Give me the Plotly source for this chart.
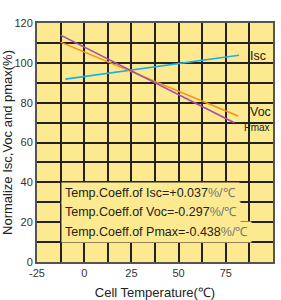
import plotly.graph_objects as go

isc_x = [-10, 82]
isc_y = [91.8, 103.8]
voc_x = [-12.5, 81.5]
voc_y = [110.4, 73.3]
pmax_x = [-12.5, 79.5]
pmax_y = [113.9, 69.9]

x_grid = [-25 + 12.5 * i for i in range(11)]
x_labels = ["-25", "", "0", "", "25", "", "50", "", "75", "", "100"]
y_grid = [10 * i for i in range(13)]
y_labels = [str(v) if v % 20 == 0 else "" for v in y_grid]

coeff_texts = [
    "Temp.Coeff.of Isc=+0.037<span style='color:#777'>%/℃</span>",
    "Temp.Coeff.of Voc=-0.297<span style='color:#777'>%/℃</span>",
    "Temp.Coeff.of Pmax=-0.438<span style='color:#777'>%/℃</span>",
]
coeff_y = [34.4, 24.9, 15.1]

font_family = "Liberation Sans, Arial, sans-serif"
bg = "#fde98f"

fig = go.Figure()
fig.add_trace(go.Scatter(x=isc_x, y=isc_y, mode="lines", line=dict(color="#1ab0ea", width=1.6)))
fig.add_trace(go.Scatter(x=voc_x, y=voc_y, mode="lines", line=dict(color="#f7901e", width=1.6)))
fig.add_trace(go.Scatter(x=pmax_x, y=pmax_y, mode="lines", line=dict(color="#a34ea6", width=1.6)))

ann = []
for t, yv in zip(coeff_texts, coeff_y):
    ann.append(dict(x=-12.2, y=yv, xref="x", yref="y", text=t, showarrow=False,
                    xanchor="left", yanchor="middle", bgcolor=bg, borderpad=3,
                    font=dict(size=12.5, color="#222", family=font_family)))
ann.append(dict(x=86.5, y=103.5, text="Isc", showarrow=False, xanchor="left",
                font=dict(size=12.5, color="#222", family=font_family)))
ann.append(dict(x=86.5, y=75.5, text="Voc", showarrow=False, xanchor="left",
                font=dict(size=12.5, color="#222", family=font_family)))
ann.append(dict(x=83.5, y=67.5, text="Pmax", showarrow=False, xanchor="left",
                font=dict(size=10, color="#222", family=font_family)))

fig.update_layout(
    width=281, height=300,
    margin=dict(l=37, r=8, t=23, b=38),
    paper_bgcolor="white", plot_bgcolor=bg,
    showlegend=False,
    font=dict(family=font_family, size=11, color="#333"),
    annotations=ann,
    xaxis=dict(range=[-25, 100], tickvals=x_grid, ticktext=x_labels, showgrid=True,
               gridcolor="#222", gridwidth=1.9, zeroline=False, showline=True,
               linecolor="#555", linewidth=2, mirror=True, ticks="", automargin=False,
               tickfont=dict(size=11, color="#333"),
               title=dict(text="Cell Temperature(℃)", font=dict(size=13, color="#222"), standoff=11)),
    yaxis=dict(range=[0, 120], tickvals=y_grid, ticktext=y_labels, showgrid=True,
               gridcolor="#222", gridwidth=1.9, zeroline=False, showline=True,
               linecolor="#555", linewidth=2, mirror=True, ticks="", automargin=False,
               tickfont=dict(size=11, color="#333"),
               title=dict(text="Normalize Isc,Voc and pmax(%)", font=dict(size=13, color="#222"), standoff=2)),
)

fig.write_html("out.html", config={"displayModeBar": False},
               post_script="document.body.style.margin='0';")
